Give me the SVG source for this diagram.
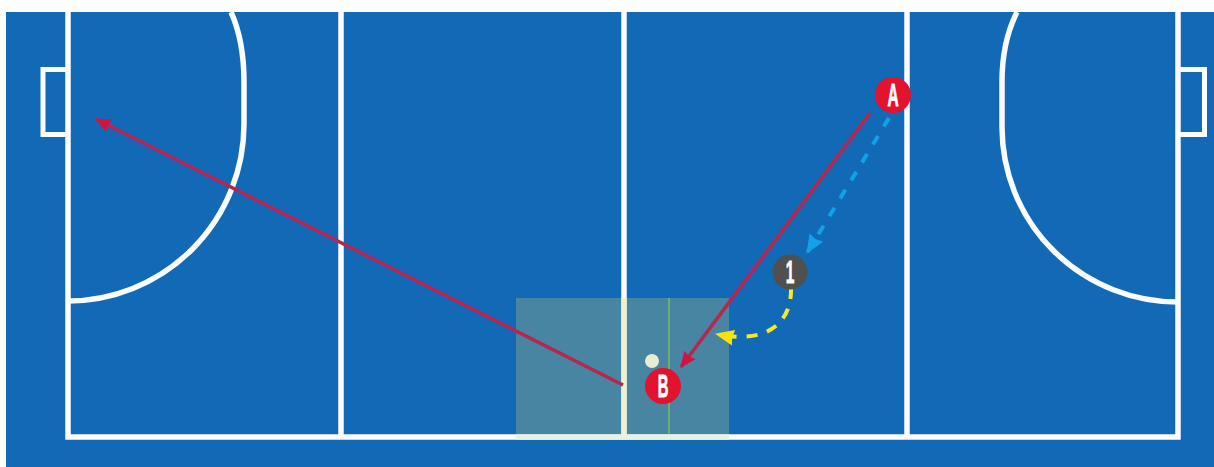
<svg xmlns="http://www.w3.org/2000/svg" width="1214" height="467" viewBox="0 0 1214 467">
<style>
.w{fill:none;stroke:#fafcff;stroke-width:5.5}
.g{fill:none;stroke:#fafcff;stroke-width:5}
.r{fill:none;stroke:#b8264f;stroke-width:3.5}
.t{font-family:"Liberation Sans",Arial,sans-serif;font-weight:700;font-size:31px;fill:#fff;stroke:#fff;stroke-width:.8;text-anchor:middle}
</style>
<defs>
<marker id="mr" markerUnits="userSpaceOnUse" markerWidth="18" markerHeight="16" refX="15" refY="8" orient="auto"><path d="M0 1L16 8L0 15L1.500 8Z" fill="#d4123f"/></marker>
<marker id="mb" markerUnits="userSpaceOnUse" markerWidth="20" markerHeight="18" refX="18" refY="9" orient="auto"><path d="M0 1L19 9L0 17L1.500 9Z" fill="#12a0e8"/></marker>
<marker id="my" markerUnits="userSpaceOnUse" markerWidth="20" markerHeight="18" refX="18" refY="9" orient="auto"><path d="M0 1L19 9L0 17L1.500 9Z" fill="#fbe20f"/></marker>
</defs>
<rect width="1214" height="467" fill="#fff"/>
<rect x="6" y="12" width="1208" height="455" fill="#1269b5"/>
<g id="pitch">
<path class="w" d="M68 12V437H1178V12M341 12V437M624 12V437M907 12V437"/>
<path class="g" d="M68 69.500H43V134.500H68M1178 69.500H1204.500V134.500H1178"/>
<path class="w" d="M231 12C240 32 244 55 244 82V124A176.500 177 0 0 1 68 301"/>
<path class="w" d="M1017 12C1007 32 1002 55 1002 82V127A176 175 0 0 0 1178 302"/>
</g>
<g id="zone">
<rect x="516" y="298" width="213" height="139" fill="#8ba88f" fill-opacity=".45"/>
<path d="M624 298V437" stroke="#edf0d6" stroke-width="5.500"/>
<path d="M669 298V437" stroke="#7dbb6a" stroke-width="1.500"/>
<path d="M516 437H729" stroke="#e6f2e6" stroke-width="5.500"/>
</g>
<g id="connectors">
<path class="r" d="M870 113L681 367" marker-end="url(#mr)"/>
<path class="r" d="M623 385L96 119" marker-end="url(#mr)"/>
<path d="M889 118L807 253" fill="none" stroke="#12a0e8" stroke-width="4" stroke-dasharray="10 11" marker-end="url(#mb)"/>
<path d="M791 288C792 322 768 345 716 334" fill="none" stroke="#f5e82e" stroke-width="4" stroke-dasharray="11 10" marker-end="url(#my)"/>
</g>
<circle id="ball" cx="652" cy="361" r="7" fill="#e6edd0"/>
<g id="node-A"><circle cx="893" cy="95" r="18" fill="#e3122f"/><text class="t" transform="translate(893 106) scale(.5 1)">A</text></g>
<g id="node-B"><circle cx="663" cy="386" r="18" fill="#e3122f"/><text class="t" transform="translate(663 396.500) scale(.48 1)">B</text></g>
<g id="node-1"><circle cx="790" cy="272" r="17.500" fill="#50504f"/><text class="t" transform="translate(790 283) scale(.5 1)">1</text></g>
</svg>
